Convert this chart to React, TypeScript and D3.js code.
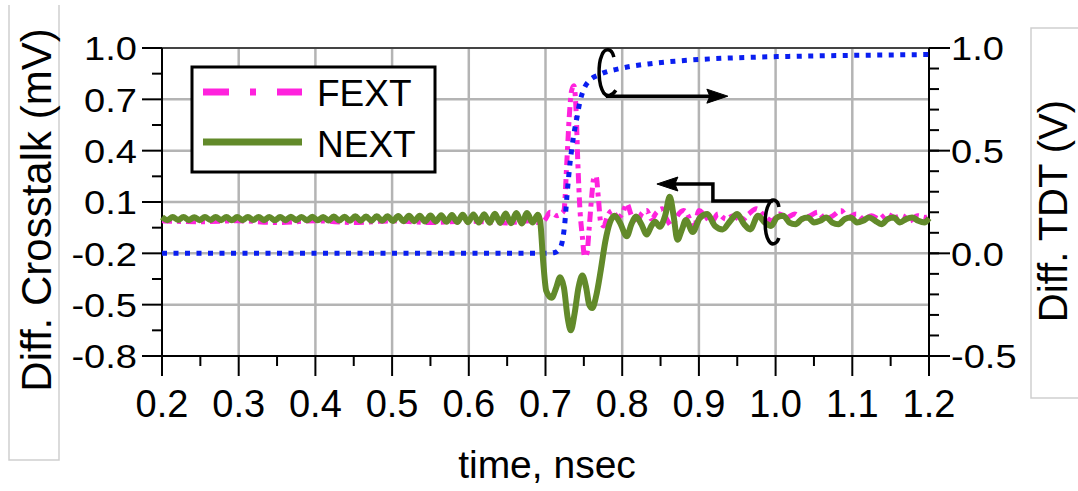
import React from "react";
import * as d3 from "d3";

// ---- data ----
const xTicks = [0.2, 0.3, 0.4, 0.5, 0.6, 0.7, 0.8, 0.9, 1.0, 1.1, 1.2];
const xLabels = ["0.2", "0.3", "0.4", "0.5", "0.6", "0.7", "0.8", "0.9", "1.0", "1.1", "1.2"];
const leftTicks = [1.0, 0.7, 0.4, 0.1, -0.2, -0.5, -0.8];
const leftLabels = ["1.0", "0.7", "0.4", "0.1", "-0.2", "-0.5", "-0.8"];
const rightTicks = [1.0, 0.5, 0.0, -0.5];
const rightLabels = ["1.0", "0.5", "0.0", "-0.5"];

// differential TDT (V), right axis
const tdt: [number, number][] = [
  [0.2, 0], [0.7, 0], [0.712, 0.004], [0.718, 0.02], [0.722, 0.06], [0.725, 0.14],
  [0.728, 0.28], [0.732, 0.44], [0.737, 0.58], [0.741, 0.66], [0.745, 0.74],
  [0.75, 0.8], [0.757, 0.84], [0.77, 0.87], [0.797, 0.9], [0.84, 0.925],
  [0.884, 0.94], [0.97, 0.955], [1.03, 0.96], [1.2, 0.968],
];

// far-end crosstalk (mV), left axis
const fext: [number, number][] = [
  [0.2, -0.01], [0.25, -0.015], [0.3, -0.01], [0.35, -0.02], [0.4, -0.01], [0.45, -0.02],
  [0.5, -0.01], [0.55, -0.02], [0.6, -0.012], [0.65, -0.022], [0.68, -0.01], [0.69, -0.02],
  [0.695, -0.02], [0.7, 0.0], [0.706, 0.04], [0.715, 0.02], [0.72, 0.03], [0.724, 0.05],
  [0.728, 0.35], [0.731, 0.6], [0.734, 0.75], [0.737, 0.78], [0.74, 0.62], [0.742, 0.35],
  [0.745, 0.05], [0.748, -0.1], [0.751, -0.22], [0.754, -0.2], [0.757, -0.05], [0.76, 0.12],
  [0.763, 0.24], [0.766, 0.25], [0.769, 0.12], [0.772, -0.02], [0.776, -0.04], [0.781, 0.02],
  [0.787, 0.05], [0.794, 0.01], [0.8, 0.03], [0.806, 0.09], [0.812, 0.02], [0.818, -0.03],
  [0.825, 0.03], [0.832, 0.05], [0.838, 0.0], [0.845, 0.04], [0.852, 0.06], [0.858, 0.0],
  [0.865, -0.04], [0.872, 0.02], [0.88, 0.05], [0.887, 0.01], [0.893, -0.07], [0.9, 0.05],
  [0.908, 0.02], [0.916, -0.02], [0.925, 0.03], [0.935, 0.0], [0.945, 0.02], [0.955, -0.01],
  [0.965, 0.03], [0.975, 0.06], [0.985, 0.02], [0.995, -0.01], [1.005, 0.03], [1.015, 0.01],
  [1.025, 0.03], [1.035, 0.0], [1.045, 0.02], [1.055, 0.04], [1.065, 0.0], [1.075, 0.02],
  [1.085, 0.05], [1.095, 0.01], [1.105, 0.03], [1.115, 0.0], [1.125, 0.02], [1.135, 0.0],
  [1.145, 0.03], [1.155, 0.01], [1.165, 0.02], [1.175, -0.01], [1.185, 0.02], [1.195, 0.01],
  [1.2, 0.02],
];

// near-end crosstalk (mV), left axis
const next: [number, number][] = [
  [0.2, 0.012], [0.207, -0.006], [0.214, 0.012], [0.221, -0.005], [0.228, 0.013], [0.235, -0.006],
  [0.242, 0.011], [0.249, -0.006], [0.256, 0.012], [0.263, -0.005], [0.27, 0.013], [0.277, -0.006],
  [0.284, 0.012], [0.291, -0.007], [0.298, 0.012], [0.305, -0.006], [0.312, 0.013], [0.319, -0.005],
  [0.326, 0.012], [0.333, -0.006], [0.34, 0.013], [0.347, -0.007], [0.354, 0.012], [0.361, -0.006],
  [0.368, 0.014], [0.375, -0.006], [0.382, 0.013], [0.389, -0.007], [0.396, 0.014], [0.403, -0.007],
  [0.41, 0.013], [0.417, -0.008], [0.424, 0.015], [0.431, -0.008], [0.438, 0.014], [0.445, -0.009],
  [0.452, 0.016], [0.459, -0.009], [0.466, 0.015], [0.473, -0.01], [0.48, 0.017], [0.487, -0.01],
  [0.494, 0.017], [0.501, -0.011], [0.508, 0.018], [0.515, -0.012], [0.522, 0.019], [0.529, -0.012],
  [0.536, 0.02], [0.543, -0.014], [0.55, 0.021], [0.557, -0.014], [0.564, 0.023], [0.571, -0.016],
  [0.578, 0.024], [0.585, -0.017], [0.592, 0.026], [0.599, -0.018], [0.606, 0.027], [0.613, -0.02],
  [0.62, 0.029], [0.627, -0.021], [0.634, 0.031], [0.641, -0.022], [0.648, 0.033], [0.655, -0.024],
  [0.662, 0.035], [0.669, -0.025], [0.676, 0.036], [0.683, -0.02], [0.69, 0.025],
  [0.693, -0.01], [0.697, -0.25], [0.701, -0.42], [0.708, -0.46], [0.714, -0.4], [0.719, -0.34],
  [0.724, -0.4], [0.729, -0.58], [0.733, -0.65], [0.738, -0.55], [0.743, -0.4], [0.748, -0.33],
  [0.753, -0.4], [0.757, -0.5], [0.761, -0.52], [0.766, -0.45], [0.772, -0.3], [0.778, -0.13],
  [0.784, -0.02], [0.79, 0.02], [0.797, -0.02], [0.806, -0.1], [0.812, -0.03], [0.818, 0.015],
  [0.825, -0.03], [0.832, -0.09], [0.838, -0.04], [0.843, -0.015], [0.849, -0.045], [0.856, 0.02],
  [0.862, 0.13], [0.867, 0.02], [0.872, -0.12], [0.878, -0.06], [0.883, -0.005], [0.892, -0.075],
  [0.901, 0.006], [0.911, 0.03], [0.921, -0.04], [0.931, -0.06], [0.941, -0.01], [0.95, 0.03],
  [0.959, -0.03], [0.967, -0.06], [0.977, 0.02], [0.986, -0.02], [0.994, -0.04], [1.002, 0.01],
  [1.01, 0.02], [1.018, -0.02], [1.026, -0.03], [1.034, 0.0], [1.042, 0.01], [1.05, -0.02],
  [1.058, -0.01], [1.066, 0.01], [1.074, -0.02], [1.082, -0.03], [1.09, 0.0], [1.098, 0.01],
  [1.106, -0.02], [1.114, -0.01], [1.122, 0.01], [1.13, -0.01], [1.138, -0.03], [1.146, 0.0],
  [1.154, 0.01], [1.162, -0.02], [1.17, 0.0], [1.178, 0.01], [1.186, -0.01], [1.194, -0.02],
  [1.2, 0.005],
];

const W = 1078;
const H = 491;
const left = 162;
const right = 929;
const top = 48;
const bottom = 356;

const FONT = "'Liberation Sans', Arial, Helvetica, sans-serif";
const GRID = "#b4b4b4";
const PINK = "#ff22dd";
const GREEN = "#628a2a";
const BLUE = "#0a1ef0";

export default function App() {
  const x = d3.scaleLinear().domain([0.2, 1.2]).range([left, right]);
  const yL = d3.scaleLinear().domain([-0.8, 1.0]).range([bottom, top]);
  const yR = d3.scaleLinear().domain([-0.5, 1.0]).range([bottom, top]);

  const lineL = d3
    .line<[number, number]>()
    .x((d) => x(d[0]))
    .y((d) => yL(d[1]))
    .curve(d3.curveMonotoneX);
  const lineR = d3
    .line<[number, number]>()
    .x((d) => x(d[0]))
    .y((d) => yR(d[1]))
    .curve(d3.curveMonotoneX);

  const xMinor = d3.range(0.25, 1.2, 0.1);
  const leftMinor = d3.range(0.85, -0.8, -0.3);
  const rightMinor = d3.range(-0.5, 1.0001, 0.1);

  // annotation anchors
  const a1x = x(0.78);
  const a1y = yR(0.78);
  const a2x = x(0.9);
  const a2y = yL(0.1);

  return (
    <svg
      width={W}
      height={H}
      style={{ position: "absolute", left: 0, top: 0, background: "#fff" }}
      fontFamily={FONT}
    >
      {/* faint title boxes */}
      <path d="M9,5 V460 H59 V5" fill="none" stroke="#cfcfcf" strokeWidth={1.5} />
      <path d="M1090,28 H1031 V398 H1090" fill="none" stroke="#cfcfcf" strokeWidth={1.5} />

      {/* grid */}
      {xTicks.slice(1, -1).map((t) => (
        <line key={"gx" + t} x1={x(t)} x2={x(t)} y1={top} y2={bottom} stroke={GRID} strokeWidth={2.5} />
      ))}
      {leftTicks.slice(1, -1).map((v) => (
        <line key={"gy" + v} x1={left} x2={right} y1={yL(v)} y2={yL(v)} stroke={GRID} strokeWidth={2.5} />
      ))}

      {/* frame */}
      <line x1={left} x2={right} y1={top} y2={top} stroke="#444" strokeWidth={2} />
      <line x1={left} x2={left} y1={top} y2={bottom + 20} stroke="#000" strokeWidth={2} />
      <line x1={right} x2={right} y1={top} y2={bottom + 20} stroke="#000" strokeWidth={2} />
      <line x1={left - 20} x2={right + 20} y1={bottom} y2={bottom} stroke="#000" strokeWidth={2} />

      {/* left axis */}
      {leftTicks.map((v, i) => (
        <g key={"l" + v}>
          <line x1={left - 20} x2={left} y1={yL(v)} y2={yL(v)} stroke="#000" strokeWidth={2} />
          <text
            transform={`translate(137,${yL(v)}) scale(1.12,1)`}
            textAnchor="end"
            dy="0.36em"
            fontSize={34}
          >
            {leftLabels[i]}
          </text>
        </g>
      ))}
      {leftMinor.map((v) => (
        <line key={"lm" + v} x1={left - 10} x2={left} y1={yL(v)} y2={yL(v)} stroke="#000" strokeWidth={2} />
      ))}

      {/* right axis */}
      {rightTicks.map((v, i) => (
        <g key={"r" + v}>
          <line x1={right} x2={right + 21} y1={yR(v)} y2={yR(v)} stroke="#000" strokeWidth={2} />
          <text
            transform={`translate(951,${yR(v)}) scale(1.12,1)`}
            textAnchor="start"
            dy="0.36em"
            fontSize={34}
          >
            {rightLabels[i]}
          </text>
        </g>
      ))}
      {rightMinor.map((v) => (
        <line key={"rm" + v} x1={right} x2={right + 10} y1={yR(v)} y2={yR(v)} stroke="#000" strokeWidth={2} />
      ))}

      {/* bottom axis */}
      {xTicks.map((t, i) => (
        <g key={"b" + t}>
          <line x1={x(t)} x2={x(t)} y1={bottom} y2={bottom + 20} stroke="#000" strokeWidth={2} />
          <text x={x(t)} y={417} textAnchor="middle" fontSize={38}>
            {xLabels[i]}
          </text>
        </g>
      ))}
      {xMinor.map((t) => (
        <line key={"bm" + t} x1={x(t)} x2={x(t)} y1={bottom} y2={bottom + 10} stroke="#000" strokeWidth={2} />
      ))}

      {/* axis titles */}
      <text transform="translate(51,210) rotate(-90)" textAnchor="middle" fontSize={42}>
        Diff. Crosstalk (mV)
      </text>
      <text transform="translate(1067,211) rotate(-90)" textAnchor="middle" fontSize={40}>
        Diff. TDT (V)
      </text>
      <text x={547} y={478} textAnchor="middle" fontSize={39}>
        time, nsec
      </text>

      {/* series */}
      <path d={lineL(fext) ?? ""} fill="none" stroke={PINK} strokeWidth={5} strokeDasharray="10 5 4 5" />
      <path d={lineR(tdt) ?? ""} fill="none" stroke={BLUE} strokeWidth={5} strokeDasharray="5 6.5" />
      <path d={lineL(next) ?? ""} fill="none" stroke={GREEN} strokeWidth={6} strokeLinejoin="round" />

      {/* axis-pointer annotations */}
      <g transform={`translate(${a1x},${a1y})`} fill="none" stroke="#000" strokeWidth={3.5}>
        <path d="M7,-36 C5,-45 -2,-46 -5,-38 C-9,-29 -9,-9 -3,0 C0,4 5,3 9,-3" />
        <path d="M-1,3 H106" />
        <path d="M121,3 L100,-4 L103,3 L100,10 Z" fill="#000" strokeWidth={1} />
      </g>
      <g transform={`translate(${a2x},${a2y})`} fill="none" stroke="#000" strokeWidth={3.5}>
        <path d="M-28,-18 H14 V-1 H74" />
        <path d="M-42,-18 L-21,-25 L-24,-18 L-21,-11 Z" fill="#000" strokeWidth={1} />
        <path d="M80,5 C79,-2 73,-5 70,2 C65,11 65,31 70,39 C73,44 78,42 80,36" />
      </g>

      {/* legend */}
      <rect x={192} y={67} width={243} height={105} fill="#fff" stroke="#000" strokeWidth={3} />
      <line x1={203} x2={302} y1={92} y2={92} stroke={PINK} strokeWidth={7} strokeDasharray="26 21 6 21" />
      <text x={317} y={106} fontSize={37}>FEXT</text>
      <line x1={203} x2={302} y1={142} y2={142} stroke={GREEN} strokeWidth={7} />
      <text x={317} y={157} fontSize={37}>NEXT</text>
    </svg>
  );
}
